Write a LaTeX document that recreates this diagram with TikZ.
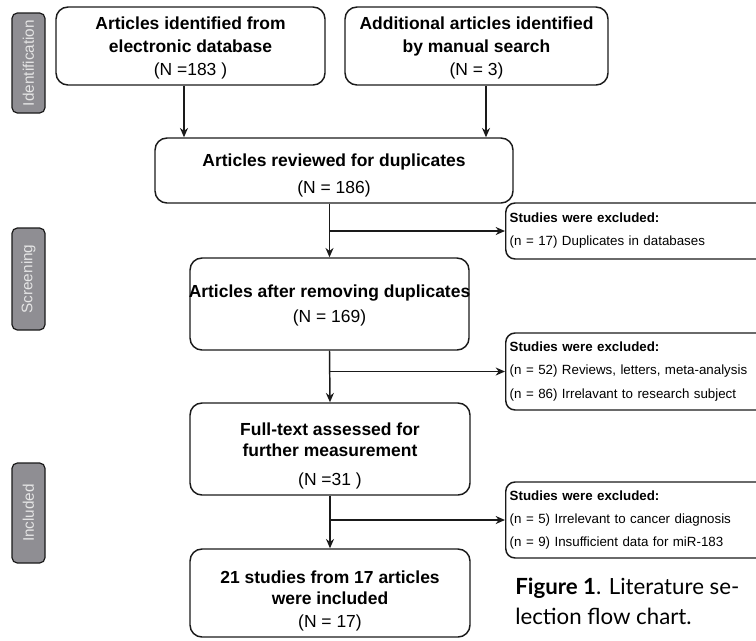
\documentclass[tikz,border=0pt]{standalone}
\usepackage{fontspec}
\setmainfont{Liberation Sans}
\newfontfamily\capfont{Lato}
\usetikzlibrary{arrows.meta}
\definecolor{tabgrey}{HTML}{8F8E93}
\definecolor{linec}{HTML}{1A1A1A}
\begin{document}
\begin{tikzpicture}[x=0.75pt,y=-0.75pt,
 box/.style={draw=linec, line width=1.1pt, rounded corners=9pt, inner sep=0pt},
 txt/.style={align=center, inner sep=0pt, font=\fontsize{13.1}{17.5}\selectfont},
 exbox/.style={draw=linec, line width=1.1pt, rounded corners=7pt, align=left, inner xsep=3pt, inner ysep=0pt, anchor=west, text width=207.75pt, font=\fontsize{10}{17.3}\selectfont},
 tab/.style={draw=linec, fill=tabgrey, line width=0.9pt, rounded corners=4pt, rotate=90, minimum height=33*0.75pt, inner sep=0pt, text=white!90!black, font=\fontsize{11.5}{12}\selectfont},
 arr/.style={draw=linec, line width=1.1pt, -{Stealth[length=7pt,width=6pt]}}]
\useasboundingbox (0,0) rectangle (756,640);
\clip (0,0) rectangle (756,640);
% side tabs
\node[tab, minimum width=100*0.75pt] (t1) at (28.5,63) {Identification};
\node[tab, minimum width=102*0.75pt] (t2) at (28.5,279) {Screening};
\node[tab, minimum width=100*0.75pt] (t3) at (28.5,513) {Included};
% main boxes
\node[box, minimum width=269*0.75pt, minimum height=78*0.75pt] (b1) at (190.5,46) {};
\node[txt] (b1t) at ([yshift=-1.5pt]b1.center)
 {\textbf{Articles identified from}\\\textbf{electronic database}\\(N =183 )};
\node[box, minimum width=263*0.75pt, minimum height=78*0.75pt] (b2) at (476.5,46) {};
\node[txt] (b2t) at ([yshift=-1.5pt]b2.center)
 {\textbf{Additional articles identified}\\\textbf{by manual search}\\(N = 3)};
\node[box, minimum width=358*0.75pt, minimum height=65*0.75pt] (b3) at (334,170.5) {};
\node[txt] (b3t) at ([yshift=-3.5pt]b3.center)
 {\textbf{Articles reviewed for duplicates}\\[3pt](N = 186)};
\node[box, minimum width=279*0.75pt, minimum height=92*0.75pt] (b4) at (329.5,304) {};
\node[txt] (b4t) at ([yshift=-1pt]b4.center)
 {\textbf{Articles after removing duplicates}\\[1.5pt](N = 169)};
\node[box, minimum width=280*0.75pt, minimum height=92*0.75pt] (b5) at (330,449) {};
\node[txt] (b5t) at ([yshift=-5pt]b5.center)
 {\textbf{Full-text assessed for}\\[-1.5pt]\textbf{further measurement}\\[4pt](N =31 )};
\node[box, minimum width=280*0.75pt, minimum height=88*0.75pt] (b6) at (330,593) {};
\node[txt] (b6t) at ([yshift=-6pt]b6.center)
 {\textbf{21 studies from 17 articles}\\[-1.5pt]\textbf{were included}\\[0pt](N = 17)};
% exclusion boxes
\node[exbox, minimum height=56*0.75pt] (e1) at (505,231)
 {\textbf{Studies were excluded:}\\(n = 17) Duplicates in databases};
\node[exbox, minimum height=77*0.75pt] (e2) at (505,371.5)
 {\textbf{Studies were excluded:}\\(n = 52) Reviews, letters, meta-analysis\\(n = 86) Irrelavant to research subject};
\node[exbox, minimum height=76*0.75pt] (e3) at (505,520)
 {\textbf{Studies were excluded:}\\(n = 5) Irrelevant to cancer diagnosis\\(n = 9) Insufficient data for miR-183};
% caption
\node[anchor=north west, align=left, inner sep=0pt, font=\capfont\fontsize{16.7}{22.5}\selectfont] (cap) at (515,578)
 {\textbf{Figure 1}. Literature se-\\lection flow chart.};
% connectors
\coordinate (c1) at (184,0);
\coordinate (c2) at (486,0);
\draw[arr] (b1.south -| c1) -- (b3.north -| c1);
\draw[arr] (b2.south -| c2) -- (b3.north -| c2);
\draw[arr] (b3.south -| b4.north) -- (b4.north);
\draw[arr] (b4.north |- e1.west) -- (e1.west);
\draw[arr] (b4.south) -- (b5.north);
\draw[arr] (b4.south |- e2.west) -- (e2.west);
\draw[arr] (b5.south) -- (b6.north);
\draw[arr] (b5.south |- e3.west) -- (e3.west);
\end{tikzpicture}
\end{document}
